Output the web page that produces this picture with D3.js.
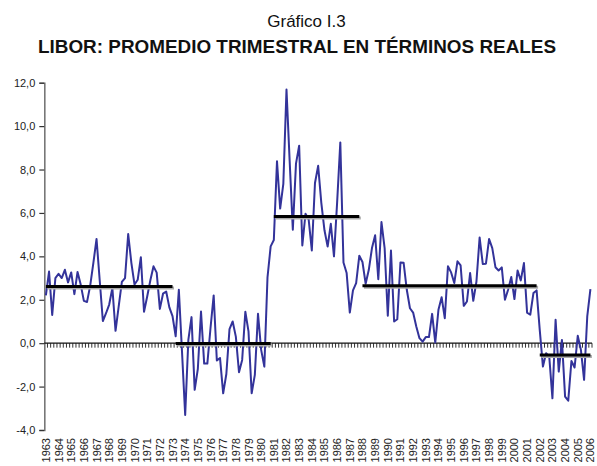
<!DOCTYPE html>
<html>
<head>
<meta charset="utf-8">
<script src="https://cdn.jsdelivr.net/npm/d3@7"></script>
<style>
  body { margin: 0; background: white; }
  svg { display: block; font-family: 'Liberation Sans', Arial, sans-serif; }
</style>
</head>
<body>
<div id="chart"></div>
<script>
// years shown on the x axis (one label per year, at Q1)
const years = [1963,1964,1965,1966,1967,1968,1969,1970,1971,1972,1973,1974,1975,
  1976,1977,1978,1979,1980,1981,1982,1983,1984,1985,1986,1987,1988,1989,1990,
  1991,1992,1993,1994,1995,1996,1997,1998,1999,2000,2001,2002,2003,2004,2005,2006];

// LIBOR real, quarterly average (%), 1963Q1 .. 2006Q1
const libor = [
  2.2, 3.3, 1.3, 3.0, 3.2, 3.0, 3.38, 2.8, 3.26, 2.26, 3.28, 2.7,
  1.95, 1.9, 2.65, 3.7, 4.8, 2.9, 1.02, 1.38, 1.78, 2.54, 0.57, 1.7,
  2.82, 3.0, 5.03, 3.7, 2.7, 2.92, 3.96, 1.45, 2.15, 2.9, 3.54, 3.25,
  1.58, 2.28, 2.38, 1.65, 1.25, 0.32, 2.46, -0.4, -3.31, 0.15, 1.2, -2.15,
  -1.18, 1.46, -0.94, -0.94, 0.7, 2.2, -0.8, -0.68, -2.31, -1.42, 0.65, 1.0,
  0.3, -1.34, -0.77, 1.45, 0.54, -2.31, -1.46, 1.35, -0.31, -1.08, 3.03, 4.46,
  4.75, 8.38, 6.2, 7.34, 11.69, 8.4, 5.23, 8.27, 9.1, 4.5, 5.96, 5.7,
  4.27, 7.38, 8.17, 6.46, 5.2, 4.45, 5.5, 4.0, 6.5, 9.25, 3.72, 3.23,
  1.41, 2.43, 2.77, 4.03, 3.74, 2.74, 3.38, 4.38, 4.97, 2.95, 5.58, 4.38,
  1.26, 4.27, 1.0, 1.1, 3.72, 3.7, 2.46, 1.61, 1.41, 0.77, 0.23, 0.07,
  0.28, 0.28, 1.35, 0.03, 1.54, 2.12, 1.15, 3.54, 3.26, 2.77, 3.77, 3.58,
  1.72, 1.92, 3.23, 1.95, 2.84, 4.87, 3.65, 3.66, 4.8, 4.38, 3.5, 3.35,
  3.49, 2.0, 2.46, 3.05, 2.03, 3.35, 2.89, 3.69, 1.41, 1.31, 2.31, 2.43,
  0.6, -1.08, -0.46, -0.62, -2.54, 1.08, -1.31, 0.15, -2.46, -2.65, -0.82, -1.12,
  0.34, -0.31, -1.69, 1.23, 2.49
];

// period averages
const periods = [
  {from: '1963-1', to: '1973-1', value: 2.61},
  {from: '1973-2', to: '1980-4', value: -0.02},
  {from: '1981-1', to: '1987-4', value: 5.84},
  {from: '1988-1', to: '2001-4', value: 2.64},
  {from: '2002-1', to: '2006-1', value: -0.54}
];

const yTicks = [-4, -2, 0, 2, 4, 6, 8, 10, 12];

// quarter categories built from the years
const quarters = [];
years.forEach(yr => { [1,2,3,4].forEach(q => quarters.push(yr + '-' + q)); });
const cats = quarters.slice(0, libor.length);
const series = cats.map((c, i) => ({cat: c, value: libor[i]}));

const width = 597, height = 466;
const plotLeft = 44.3, plotRight = 592, plotTop = 82.7, plotBottom = 430;

const svg = d3.select('#chart').append('svg')
  .attr('width', width)
  .attr('height', height);

const x = d3.scaleBand().domain(cats).range([plotLeft, plotRight]).padding(0);
const bw = x.bandwidth();
const cx = c => x(c) + bw / 2;
const y = d3.scaleLinear().domain([-4, 12]).range([plotBottom, plotTop]);

// titles
svg.append('text')
  .attr('x', 306.5).attr('y', 27)
  .attr('text-anchor', 'middle')
  .attr('font-size', '17px')
  .attr('fill', '#111')
  .text('Gráfico I.3');
svg.append('text')
  .attr('x', 297).attr('y', 53)
  .attr('text-anchor', 'middle')
  .attr('font-size', '17.5px')
  .attr('font-weight', 'bold')
  .attr('fill', '#111')
  .attr('textLength', 518)
  .attr('lengthAdjust', 'spacingAndGlyphs')
  .text('LIBOR: PROMEDIO TRIMESTRAL EN TÉRMINOS REALES');

// y axis
const yAxis = svg.append('g')
  .attr('transform', `translate(${plotLeft},0)`)
  .call(d3.axisLeft(y).tickValues(yTicks).tickSize(5).tickPadding(4)
    .tickFormat(d => d3.format('.1f')(d).replace('.', ',').replace('−', '-')));
yAxis.select('.domain').attr('stroke', '#777').attr('stroke-width', 1.6);
yAxis.selectAll('.tick line').attr('stroke', '#333').attr('stroke-width', 1.2);
yAxis.selectAll('.tick text')
  .attr('font-size', '11px')
  .attr('fill', '#222')
  .attr('font-family', "'Liberation Sans', Arial, sans-serif");

// zero line with quarter ticks
const zeroAxis = svg.append('g');
zeroAxis.selectAll('line.qt')
  .data(cats)
  .enter()
  .append('line')
  .classed('qt', true)
  .attr('x1', d => x(d) + bw)
  .attr('x2', d => x(d) + bw)
  .attr('y1', y(0))
  .attr('y2', y(0) + 4.5)
  .attr('stroke', '#333')
  .attr('stroke-width', 1);
zeroAxis.append('line')
  .attr('x1', plotLeft).attr('x2', plotRight)
  .attr('y1', y(0)).attr('y2', y(0))
  .attr('stroke', '#111')
  .attr('stroke-width', 1.3);

// year labels
svg.append('g')
  .selectAll('text')
  .data(cats.filter(c => c.endsWith('-1')))
  .enter()
  .append('text')
  .attr('transform', d => `translate(${cx(d) + 4},438) rotate(-90)`)
  .attr('text-anchor', 'end')
  .attr('font-size', '11px')
  .attr('fill', '#222')
  .text(d => d.split('-')[0]);

// libor line
const line = d3.line()
  .x(d => cx(d.cat))
  .y(d => y(d.value));
svg.append('path')
  .datum(series)
  .attr('d', line)
  .attr('fill', 'none')
  .attr('stroke', '#33339a')
  .attr('stroke-width', 2)
  .attr('stroke-linejoin', 'round');

// period averages (with a light shadow)
const avg = svg.append('g');
avg.selectAll('line.shadow')
  .data(periods)
  .enter()
  .append('line')
  .classed('shadow', true)
  .attr('x1', d => cx(d.from) + 1.5)
  .attr('x2', d => cx(d.to) + 1.5)
  .attr('y1', d => y(d.value) + 1.5)
  .attr('y2', d => y(d.value) + 1.5)
  .attr('stroke', '#aaa')
  .attr('stroke-width', 3);
avg.selectAll('line.mean')
  .data(periods)
  .enter()
  .append('line')
  .classed('mean', true)
  .attr('x1', d => cx(d.from))
  .attr('x2', d => cx(d.to))
  .attr('y1', d => y(d.value))
  .attr('y2', d => y(d.value))
  .attr('stroke', '#000')
  .attr('stroke-width', 3);
</script>
</body>
</html>
